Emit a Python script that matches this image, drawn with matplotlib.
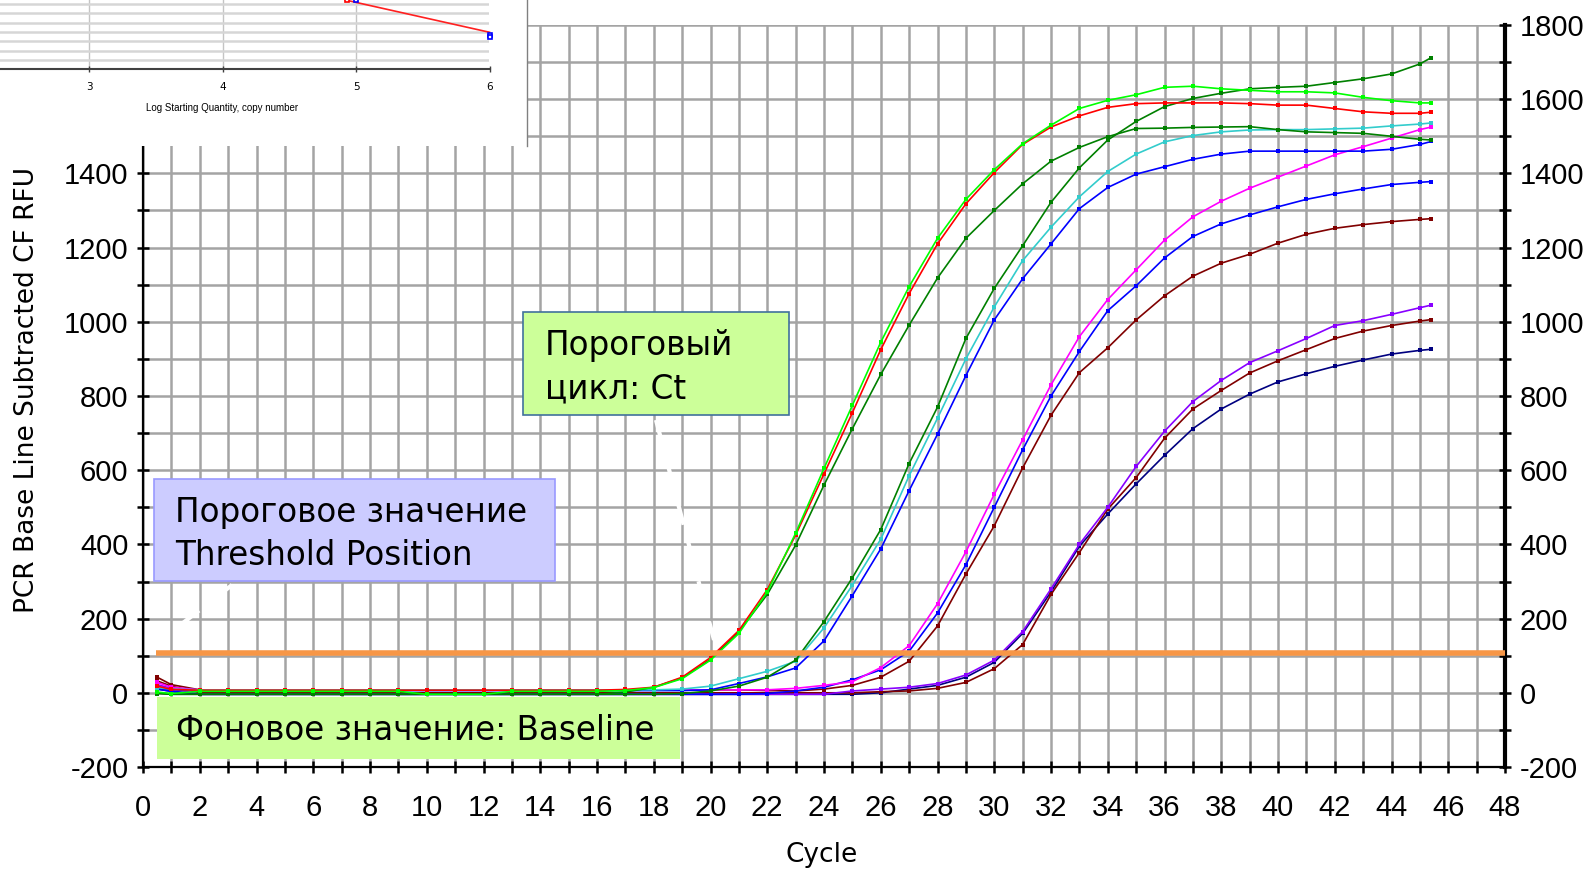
import matplotlib
matplotlib.use("Agg")
import matplotlib.pyplot as plt
from matplotlib.patches import Rectangle
from matplotlib.lines import Line2D
from matplotlib.ticker import MultipleLocator

plt.rcParams["axes.unicode_minus"] = False

W, H = 1591, 872

# cycle positions where the amplification curves were read
cycles = [0.5] + list(range(1, 46)) + [45.4]

# RFU values: [0.5, 1..16], [17..31], [32..45, 45.4]
red = ([18, 9, 7, 7, 7, 7, 7, 7, 7, 7, 7, 7, 7, 7, 7, 7, 7]
       + [9, 15, 42, 95, 168, 278, 425, 590, 755, 925, 1076, 1210, 1318, 1402, 1478]
       + [1525, 1555, 1578, 1588, 1590, 1590, 1590, 1588, 1584, 1584, 1575, 1566, 1562, 1562, 1565])
lime = ([2, -2, 4, 4, 4, 4, 4, 4, 4, 4, -4, -4, -4, 4, 4, 4, 4]
        + [6, 14, 38, 88, 160, 272, 430, 605, 775, 945, 1095, 1225, 1330, 1410, 1480]
        + [1530, 1575, 1597, 1612, 1632, 1635, 1628, 1624, 1620, 1620, 1617, 1605, 1596, 1590, 1590])
dkgreen_1 = ([0, -4, -4, -4, -4, -4, -4, -4, -4, -4, -4, -4, -4, -4, -4, -4, -4]
             + [2, 15, 40, 90, 165, 265, 398, 560, 712, 858, 991, 1118, 1225, 1300, 1372]
             + [1433, 1470, 1499, 1521, 1522, 1524, 1525, 1526, 1518, 1512, 1510, 1508, 1500, 1492, 1490])
dkgreen_2 = ([-2, -4, -4, -4, -4, -4, -4, -4, -4, -4, -4, -4, -4, -4, -4, -4, -4]
             + [-4, -4, -2, 5, 18, 42, 88, 192, 310, 440, 618, 770, 955, 1090, 1205]
             + [1322, 1415, 1490, 1540, 1580, 1602, 1616, 1628, 1632, 1635, 1645, 1655, 1668, 1695, 1712])
cyan = ([14, 10, 8, 8, 8, 8, 8, 8, 8, 8, 8, 8, 8, 8, 8, 8, 8]
        + [8, 8, 10, 18, 38, 58, 85, 175, 290, 414, 585, 740, 900, 1040, 1165]
        + [1255, 1337, 1405, 1452, 1485, 1502, 1512, 1517, 1518, 1518, 1520, 1522, 1528, 1533, 1536])
blue_1 = ([12, 8, 6, 6, 6, 6, 6, 6, 6, 6, 6, 6, 6, 6, 6, 6, 6]
          + [6, 6, 6, 8, 25, 43, 67, 140, 262, 388, 545, 697, 855, 1005, 1116]
          + [1210, 1305, 1362, 1398, 1418, 1438, 1452, 1460, 1460, 1460, 1460, 1460, 1465, 1478, 1486])
magenta = ([28, 15, 8, 8, 8, 8, 8, 8, 8, 8, 8, 8, 8, 8, 8, 8, 8]
           + [8, 8, 8, 8, 8, 8, 12, 20, 30, 68, 127, 240, 380, 535, 682]
           + [830, 960, 1060, 1140, 1220, 1283, 1325, 1360, 1390, 1420, 1450, 1472, 1495, 1518, 1525])
blue_2 = ([10, 4, -4, -4, -4, -4, -4, -4, -4, -4, -4, -4, -4, -4, -4, -4, -4]
          + [-4, -4, -4, -4, -4, -2, 5, 15, 35, 62, 112, 215, 345, 500, 655]
          + [800, 920, 1030, 1097, 1172, 1230, 1264, 1288, 1310, 1330, 1345, 1358, 1370, 1376, 1378])
dkred_1 = ([42, 22, 8, 8, 8, 8, 8, 8, 8, 8, 8, 8, 8, 8, 8, 8, 8]
           + [8, 8, 8, 8, 8, 6, 5, 10, 20, 42, 85, 180, 320, 450, 606]
           + [748, 863, 930, 1005, 1070, 1123, 1158, 1182, 1212, 1236, 1252, 1262, 1270, 1276, 1278])
purple = ([22, 12, -4, -4, -4, -4, -4, -4, -4, -4, -4, -4, -4, -4, -4, -4, -4]
          + [-4, -4, -4, -4, -4, -4, -4, -4, 5, 10, 15, 25, 48, 88, 165]
          + [280, 400, 500, 610, 705, 785, 842, 890, 922, 955, 990, 1003, 1020, 1038, 1045])
dkred_2 = ([32, 18, 0, 0, 0, 0, 0, 0, 0, 0, 0, 0, 0, 0, 0, 0, 0]
           + [0, 0, 0, 0, 0, 0, 0, 0, 0, 3, 5, 12, 28, 65, 130]
           + [265, 378, 495, 580, 686, 765, 815, 862, 895, 925, 955, 975, 990, 1002, 1006])
navy = ([10, 4, -4, -4, -4, -4, -4, -4, -4, -4, -4, -4, -4, -4, -4, -4, -4]
        + [-4, -4, -4, -4, -4, -4, -4, -4, -4, 0, 10, 20, 42, 82, 160]
        + [272, 395, 482, 563, 640, 712, 765, 805, 838, 860, 880, 897, 913, 923, 926])

curves = [
    (navy, "#000080"), (dkred_2, "#800000"), (purple, "#8800ff"),
    (dkred_1, "#800000"), (blue_2, "#0000ff"), (magenta, "#ff00ff"),
    (blue_1, "#0000ff"), (cyan, "#33cccc"), (dkgreen_2, "#008000"),
    (dkgreen_1, "#008000"), (red, "#ff0000"), (lime, "#00ff00"),
]

THRESHOLD = 108
y_ticks = list(range(-200, 1801, 200))
x_ticks = list(range(0, 49, 2))

# inset: standard curve fragment
std_logq = [4.93, 5.0, 6.0, 6.0]
std_ct = [24.38, 24.42, 20.72, 20.45]
std_colors = ["#ff0000", "#0000ff", "#0000ff", "#0000ff"]
fit_logq = [4.92, 6.0]
fit_ct = [24.43, 20.97]

fig = plt.figure(figsize=(W / 100, H / 100), dpi=100)
fig.patch.set_facecolor("white")

ax = fig.add_axes([143 / W, 1 - 767 / H, (1505 - 143) / W, (767 - 25) / H])
ax.set_xlim(0, 48)
ax.set_ylim(-200, 1800)
ax.set_xticks(x_ticks)
ax.set_yticks(y_ticks)
ax.xaxis.set_minor_locator(MultipleLocator(1))
ax.yaxis.set_minor_locator(MultipleLocator(100))
ax.set_axisbelow(True)
ax.grid(which="both", color="#a4a4a4", lw=1.8)

for vals, col in curves:
    ax.plot(cycles, vals, color=col, lw=1.2, marker="s", ms=2.4, mew=0, zorder=3)

ax.hlines(THRESHOLD, 0.45, 48, color="#f79646", lw=4, zorder=4)

ax.spines["top"].set_visible(False)
ax.spines["left"].set_linewidth(1.6)
ax.spines["bottom"].set_linewidth(1.6)
ax.spines["right"].set_linewidth(3)
ax.tick_params(which="both", direction="inout", length=9, width=1.8, color="black",
               right=True, labelright=True, top=False, labelsize=21)
ax.tick_params(axis="x", pad=15)
ax.tick_params(axis="y", pad=6)
plt.setp(ax.get_xticklabels() + ax.get_yticklabels(), fontfamily="Liberation Sans")
# the left labels above 1400 sit under the inset
for t, v in zip(ax.yaxis.get_major_ticks(), y_ticks):
    if v > 1400:
        t.label1.set_visible(False)

fig.text(27 / W, 1 - 390 / H, "PCR Base Line Subtracted CF RFU", rotation=90,
         ha="center", va="center", fontsize=19, family="DejaVu Sans")
fig.text(822 / W, 1 - 855 / H, "Cycle", ha="center", va="center", fontsize=19,
         family="DejaVu Sans")

def fig_rect(x0, y0, x1, y1, fc, ec, lw, z):
    fig.add_artist(Rectangle((x0 / W, 1 - y1 / H), (x1 - x0) / W, (y1 - y0) / H,
                             transform=fig.transFigure, fc=fc, ec=ec, lw=lw, zorder=z))

def fig_line(x0, y0, x1, y1, **kw):
    fig.add_artist(Line2D([x0 / W, x1 / W], [1 - y0 / H, 1 - y1 / H],
                          transform=fig.transFigure, **kw))

# white dashed pointers
fig_line(656, 420, 714, 640, color="white", lw=3, ls=(0, (6, 4)), zorder=2)
fig_line(232, 585, 148, 650, color="white", lw=3, ls=(0, (6, 4)), zorder=2)

# annotation boxes
fs = 23.5
fig_rect(523, 312, 789, 415, "#ccff99", "#41719c", 1.2, 3)
fig.text(545 / W, 1 - 355 / H, "Пороговый", fontsize=fs, va="baseline", zorder=4)
fig.text(545 / W, 1 - 398 / H, "цикл: Ct", fontsize=fs, va="baseline", zorder=4)

fig_rect(154, 479, 555, 581, "#ccccff", "#9999ff", 1.2, 3)
fig.text(175 / W, 1 - 522 / H, "Пороговое значение", fontsize=fs, va="baseline", zorder=4)
fig.text(175 / W, 1 - 565 / H, "Threshold Position", fontsize=fs, va="baseline", zorder=4)

fig_rect(157, 697, 680, 759, "#ccff99", "none", 0, 3)
fig.text(176 / W, 1 - 740 / H, "Фоновое значение: Baseline", fontsize=fs, va="baseline", zorder=4)

# inset (cropped standard curve)
fig_rect(0, 0, 527, 146, "white", "none", 0, 1.5)
fig_line(527, 0, 527, 146, color="#808080", lw=1, zorder=1.6)
axi = fig.add_axes([0, 1 - 69.3 / H, 489.5 / W, 69.3 / H], zorder=2)
axi.set_facecolor("none")
axi.set_xlim(2.333, 6)
axi.set_ylim(17, 24.43)
axi.set_xticks([3, 4, 5, 6])
axi.set_yticks(range(18, 25))
axi.grid(axis="y", color="#d6d6d6", lw=1.8)
axi.grid(axis="x", color="#c4c4c4", lw=1.0)
for s in ["top", "left", "right"]:
    axi.spines[s].set_visible(False)
axi.spines["bottom"].set_color("#404040")
axi.spines["bottom"].set_linewidth(1.5)
axi.tick_params(axis="y", left=False, labelleft=False)
axi.tick_params(axis="x", direction="inout", length=5, width=1, color="#404040",
                labelsize=7.5, pad=7)
axi.plot(fit_logq, fit_ct, color="#ff2020", lw=1.2, clip_on=False)
for lq, ct, c in zip(std_logq, std_ct, std_colors):
    axi.plot(lq, ct, marker="s", ms=3.5, mfc="white", mec=c, mew=1.2, clip_on=False)
fig.text(222 / W, 1 - 108 / H, "Log Starting Quantity, copy number", ha="center",
         va="center", fontsize=7, family="Liberation Sans", zorder=3)

fig.savefig("out.png", dpi=100, facecolor="white")
